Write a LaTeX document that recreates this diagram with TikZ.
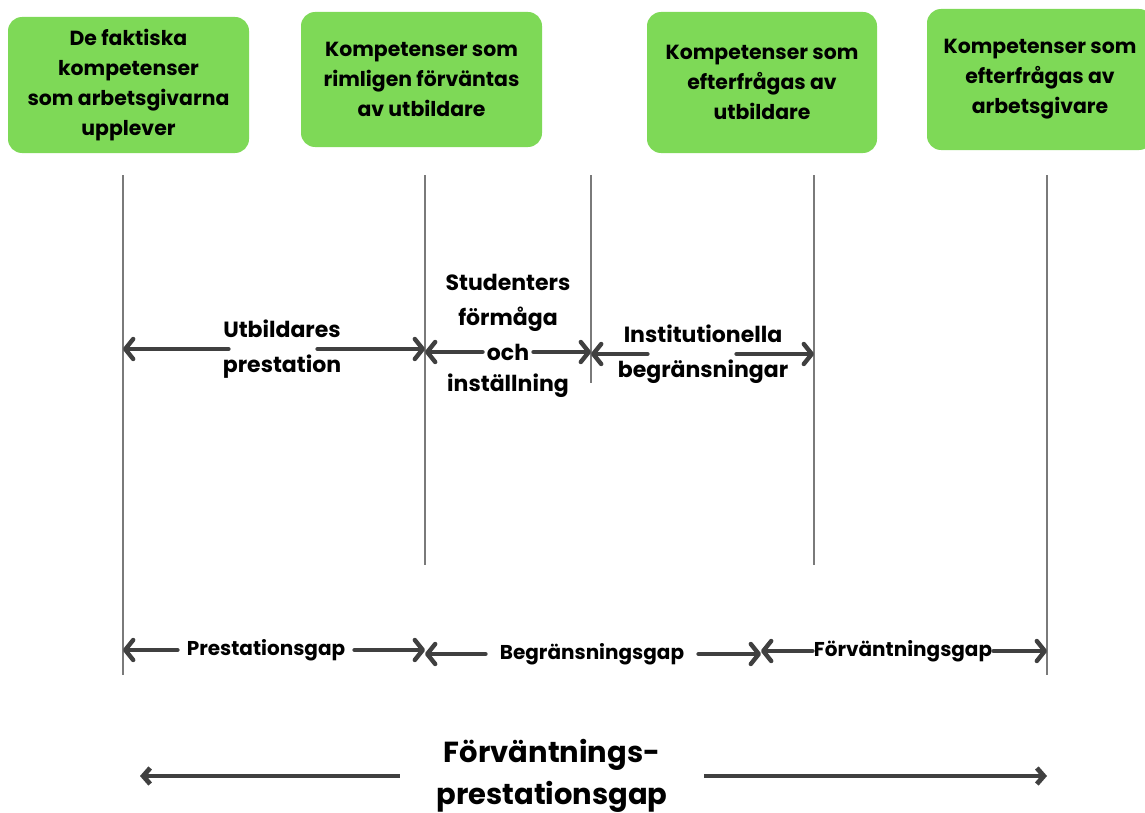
\documentclass[tikz,border=0pt]{standalone}
\usepackage{fontspec}
\setmainfont{Poppins}
\usetikzlibrary{arrows.meta,positioning}
\definecolor{boxgreen}{HTML}{7ED957}
\definecolor{arrowgray}{HTML}{404040}
\definecolor{linegray}{HTML}{7A7A7A}

\begin{document}
\begin{tikzpicture}[
    x=0.5pt, y=-0.5pt,
    node distance=2pt,
    box/.style={rectangle, fill=boxgreen, rounded corners=7pt, align=center, inner sep=0pt, font=\bfseries\fontsize{10.2}{15}\selectfont},
    lbl/.style={align=center, inner sep=0pt, font=\bfseries\fontsize{11}{17.5}\selectfont},
    gaplbl/.style={inner ysep=0pt, font=\bfseries\fontsize{10}{12}\selectfont},
    vline/.style={linegray, line width=0.6pt},
    arrow/.style={arrowgray, line width=2.2pt, line cap=round, -{Straight Barb[length=4pt, width=10pt, line join=round, line cap=round]}},
    bigarrow/.style={arrowgray, line width=2.4pt, -{Straight Barb[length=3.5pt, width=8pt]}}
]
\useasboundingbox (0,0) rectangle (1145,813);

% top boxes
\node[box, minimum width=120.5pt, minimum height=68pt] (actual) at (128.5,85) {De faktiska\\kompetenser\\som arbetsgivarna\\upplever};
\node[box, minimum width=120.5pt, minimum height=67.5pt] (reason) at (421.5,79.5) {Kompetenser som\\rimligen förväntas\\av utbildare};
\node[box, minimum width=115pt, minimum height=70.5pt] (eduask) at (762,82.5) {Kompetenser som\\efterfrågas av\\utbildare};
\node[box, minimum width=113pt, minimum height=70.5pt] (empask) at (1040,79.5) {Kompetenser som\\efterfrågas av\\arbetsgivare};

% vertical lines
\coordinate (v1t) at (123,175); \coordinate (v1b) at (123,675);
\coordinate (v2t) at (425,175); \coordinate (v2b) at (425,565);
\coordinate (v3t) at (591,175); \coordinate (v3b) at (591,383);
\coordinate (v4t) at (814,175); \coordinate (v4b) at (814,565);
\coordinate (v5t) at (1047,175); \coordinate (v5b) at (1047,675);
\draw[vline] (v1t) -- (v1b);
\draw[vline] (v2t) -- (v2b);
\draw[vline] (v3t) -- (v3b);
\draw[vline] (v4t) -- (v4b);
\draw[vline] (v5t) -- (v5b);

% middle row
\node[lbl] (utb) at (282,349) {Utbildares\\prestation};
\draw[arrow] ([xshift=3pt]utb.west) -- (utb.west -| v1t);
\draw[arrow] ([xshift=-12pt]utb.east) -- (utb.east -| v2t);

\node[lbl, inner xsep=2pt] (och) at (508,352) {och};
\node[lbl, above=5.5pt of och] (stud) {Studenters\\förmåga};
\node[lbl, below=6.5pt of och] (inst) {inställning};
\draw[arrow] (och) -- (och -| v2t);
\draw[arrow] (och) -- (och -| v3t);

\node[lbl] (instit) at (703,354) {Institutionella\\begränsningar};
\draw[arrow] ([xshift=15pt]instit.west) -- (instit.west -| v3t);
\draw[arrow] ([xshift=-26pt]instit.east) -- (instit.east -| v4t);

% gap row
\node[gaplbl, inner xsep=4.5pt] (pgap) at (266,650) {Prestationsgap};
\draw[arrow] (pgap) -- (pgap -| v1t);
\draw[arrow] (pgap) -- (pgap -| v2t);
\coordinate (mid) at (761,652);
\node[gaplbl, inner xsep=7pt] (bgap) at (592,654) {Begränsningsgap};
\draw[arrow] (bgap) -- (bgap -| v2t);
\draw[arrow] (bgap) -- (bgap -| mid);
\node[gaplbl, inner xsep=0.5pt] (fgap) at (903,651) {Förväntningsgap};
\draw[arrow] (fgap) -- (fgap -| mid);
\draw[arrow] (fgap) -- (fgap -| v5t);

% overall gap
\node[align=center, inner xsep=18pt, inner ysep=0pt, font=\bfseries\fontsize{14.5}{21}\selectfont] (total) at (552,776) {Förväntnings-\\prestationsgap};
\coordinate (tl) at (140,774);
\coordinate (tr) at (1047,774);
\draw[bigarrow] (total) -- (total -| tl);
\draw[bigarrow] (total) -- (total -| tr);
\end{tikzpicture}
\end{document}
